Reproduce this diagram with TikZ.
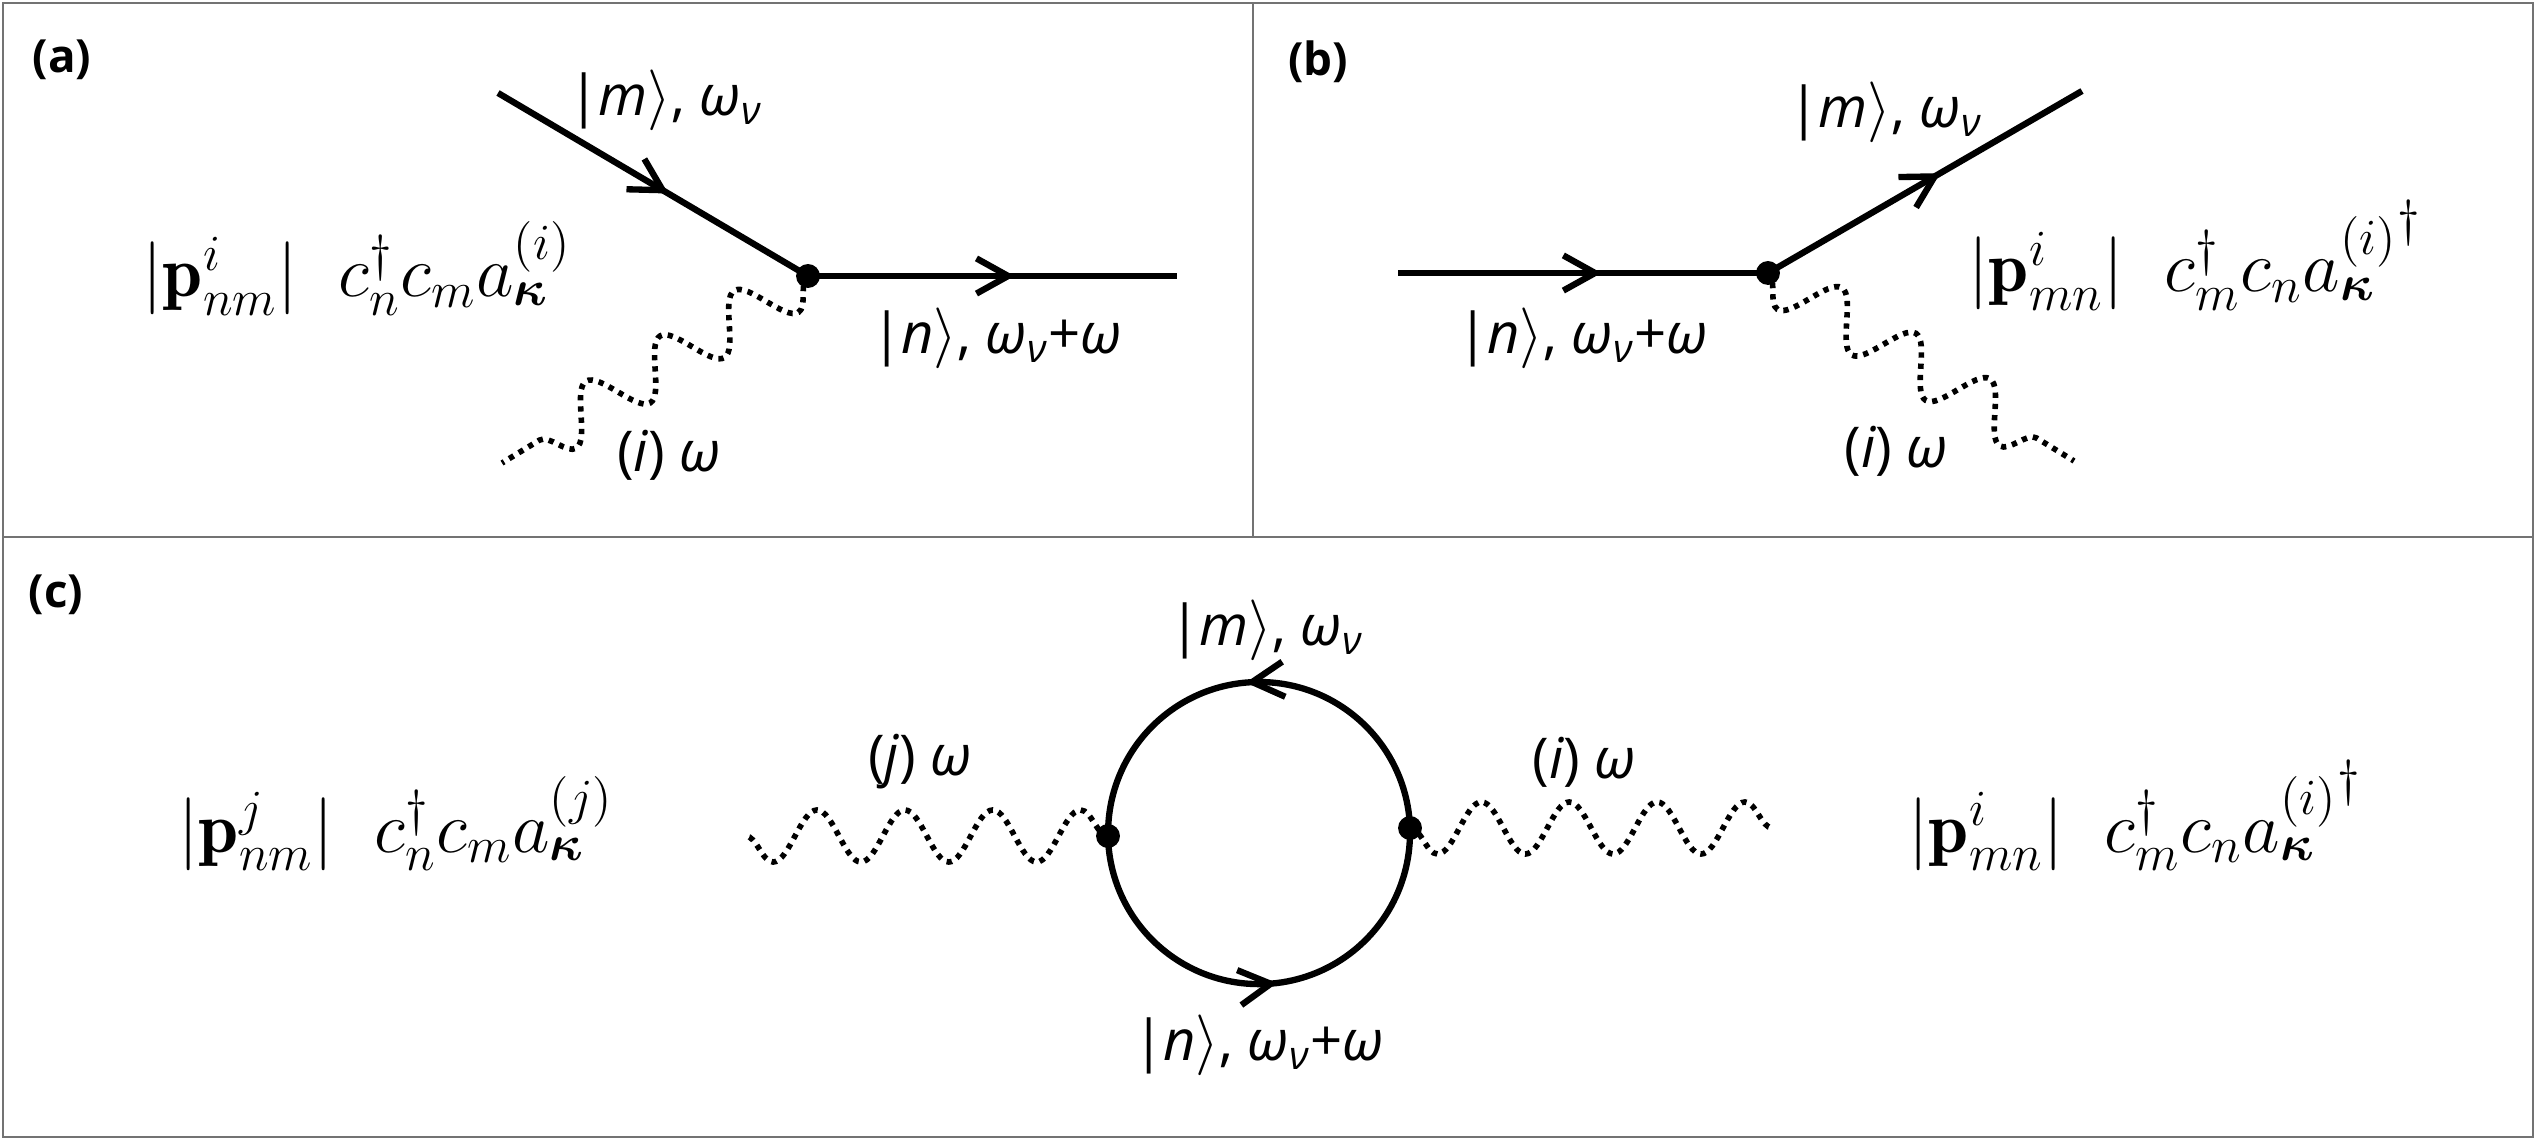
\documentclass[tikz,border=0pt]{standalone}
\usepackage{amsmath,amssymb,bm}
\usepackage{fontspec}
\newfontfamily\labfont{Open Sans}
\usetikzlibrary{arrows.meta,decorations.markings,decorations.pathmorphing}
\newcommand{\omsub}{{\itshape ω}\textsubscript{\itshape ν}}
\begin{document}
\begin{tikzpicture}[x=0.01cm,y=-0.01cm,
  frameline/.style={draw=black!55,line width=0.8pt},
  fline/.style={line width=1.8pt},
  midarrow/.style={postaction={decorate,decoration={markings,mark=at position #1 with {\arrow{Straight Barb[length=9pt,width=10pt,line width=1.8pt]}}}}},
  wave/.style={line width=1.6pt,dash pattern=on 1.5pt off 1.7pt,decorate,decoration={snake,segment length=#1,amplitude=0.26cm}},
  wavem/.style={wave=#1,decoration={mirror}},
  vdot/.style={circle,fill=black,inner sep=0pt,minimum size=6.8pt},
  lab/.style={font=\labfont\fontsize{16}{18}\selectfont,inner sep=0pt},
  plab/.style={font=\labfont\bfseries\fontsize{13}{15}\selectfont,inner sep=0pt},
  eq/.style={font=\fontsize{20.5}{24}\selectfont,inner sep=0pt,anchor=base west},
]
\useasboundingbox (0,0) rectangle (2536,1140);
% frame
\draw[frameline] (3,3) rectangle (2533,1137);
\draw[frameline] (1253,3) -- (1253,537);
\draw[frameline] (3,537) -- (2533,537);

% ---------- (a)
\node[plab] (la) at (62,60) {(a)};
\coordinate (a1) at (498,93);
\node[vdot] (a0) at (808,276) {};
\coordinate (a2) at (1177,276);
\coordinate (a3) at (502,463);
\draw[fline,midarrow=0.55] (a1) -- (a0.center);
\draw[fline,midarrow=0.56] (a0.center) -- (a2);
\draw[wave=0.868cm] (a0.center) -- (a3);
\node[lab] (am) at (665,100) {{\itshape |m}$\rangle$, \omsub};
\node[lab] (an) at (996,338) {{\itshape |n}$\rangle$, \omsub+{\itshape ω}};
\node[lab] (ai) at (669,455) {({\itshape i}) {\itshape ω}};
\node[eq] (aeq) at (142,297) {$|\mathbf{p}^{i}_{nm}|\;\; c^{\dagger}_{n}c_{m}a^{(i)}_{\boldsymbol{\kappa}}$};

% ---------- (b)
\node[plab] (lb) at (1318,62) {(b)};
\coordinate (b1) at (1398,273);
\node[vdot] (b0) at (1768,273) {};
\coordinate (b2) at (2082,91);
\coordinate (b3) at (2074,461);
\draw[fline,midarrow=0.55] (b1) -- (b0.center);
\draw[fline,midarrow=0.55] (b0.center) -- (b2);
\draw[wavem=0.869cm] (b0.center) -- (b3);
\node[lab] (bm) at (1885,112) {{\itshape |m}$\rangle$, \omsub};
\node[lab] (bn) at (1582,338) {{\itshape |n}$\rangle$, \omsub+{\itshape ω}};
\node[lab] (bi) at (1896,451) {({\itshape i}) {\itshape ω}};
\node[eq] (beq) at (1968,292) {$|\mathbf{p}^{i}_{mn}|\;\; c^{\dagger}_{m}c_{n}{a^{(i)}_{\boldsymbol{\kappa}}}^{\dagger}$};

% ---------- (c)
\node[plab] (lc) at (56,595) {(c)};
\node[vdot] (cl) at (1108,836) {};
\node[vdot] (cr) at (1410,828) {};
\coordinate (cwl) at (745,836);
\coordinate (cwr) at (1773,828);
\draw[fline,midarrow=0.52] (cr.center) arc[start angle=-1.9,end angle=-181.1,radius=151];
\draw[fline,midarrow=0.53] (cl.center) arc[start angle=178.9,end angle=-1.9,radius=151];
\draw[wavem=0.878cm] (cl.center) -- (cwl);
\draw[wavem=0.878cm] (cr.center) -- (cwr);
\node[lab] (cm) at (1266,630) {{\itshape |m}$\rangle$, \omsub};
\node[lab] (cn) at (1258,1045) {{\itshape |n}$\rangle$, \omsub+{\itshape ω}};
\node[lab] (cj) at (920,762) {({\itshape j}) {\itshape ω}};
\node[lab] (ci) at (1584,762) {({\itshape i}) {\itshape ω}};
\node[eq] (ceq1) at (178,852) {$|\mathbf{p}^{j}_{nm}|\;\; c^{\dagger}_{n}c_{m}a^{(j)}_{\boldsymbol{\kappa}}$};
\node[eq] (ceq2) at (1908,852) {$|\mathbf{p}^{i}_{mn}|\;\; c^{\dagger}_{m}c_{n}{a^{(i)}_{\boldsymbol{\kappa}}}^{\dagger}$};
\end{tikzpicture}
\end{document}
